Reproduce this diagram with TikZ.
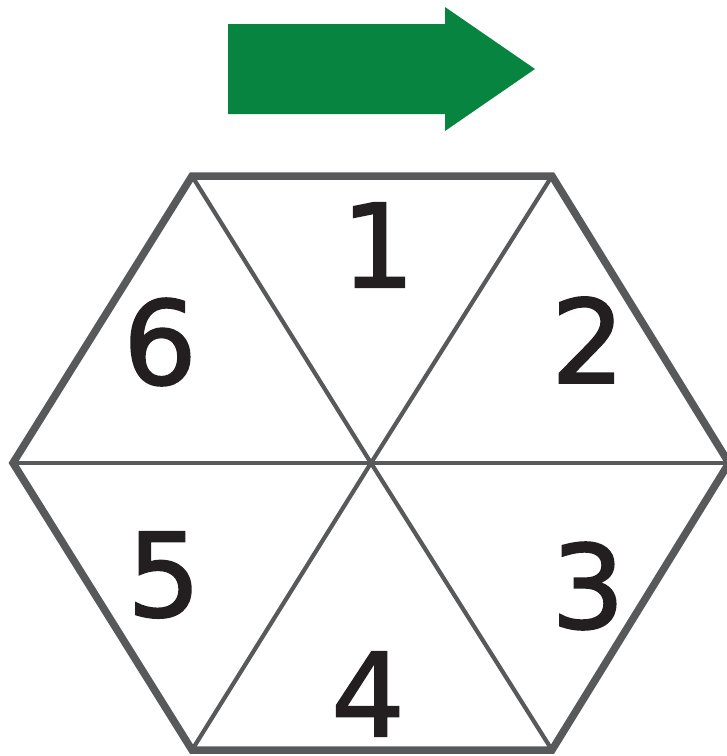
\documentclass[tikz,border=0pt]{standalone}
\usepackage{fontspec}
\setmainfont{DejaVu Sans}
\newfontfamily\digitfont{DejaVu Sans}[FakeBold=1.6]
\definecolor{arrowgreen}{HTML}{07843F}
\definecolor{edgegray}{HTML}{58595B}
\definecolor{digitblack}{HTML}{231F20}
\tikzset{
  outeredge/.style={draw=edgegray, line width=7.5pt, line join=miter},
  inneredge/.style={draw=edgegray, line width=4.2pt},
  digit/.style={inner sep=0pt, text=digitblack, font=\digitfont\fontsize{116}{116}\selectfont}
}
\begin{document}
\begin{tikzpicture}[x=1pt,y=-1pt]
\useasboundingbox (0,0) rectangle (727,756);
% arrow
\fill[arrowgreen] (228,24) -- (445,24) -- (445,7) -- (535,69) -- (445,131) -- (445,114) -- (228,114) -- cycle;
% hexagon vertices
\coordinate (L) at (13,463);
\coordinate (R) at (729,463);
\coordinate (TL) at (192,176);
\coordinate (TR) at (552,176);
\coordinate (BL) at (192,750);
\coordinate (BR) at (552,750);
\coordinate (C) at (371,463);
% spokes
\draw[inneredge] (L) -- (R);
\draw[inneredge] (TL) -- (C) -- (BR);
\draw[inneredge] (TR) -- (C) -- (BL);
% outline
\draw[outeredge] (L) -- (TL) -- (TR) -- (R) -- (BR) -- (BL) -- cycle;
% digits
\node[digit] (n1) at (378,245) {1};
\node[digit] (n2) at (588,340) {2};
\node[digit] (n3) at (588,586) {3};
\node[digit] (n4) at (368,694) {4};
\node[digit] (n5) at (164,575) {5};
\node[digit] (n6) at (160,342) {6};
\end{tikzpicture}
\end{document}
